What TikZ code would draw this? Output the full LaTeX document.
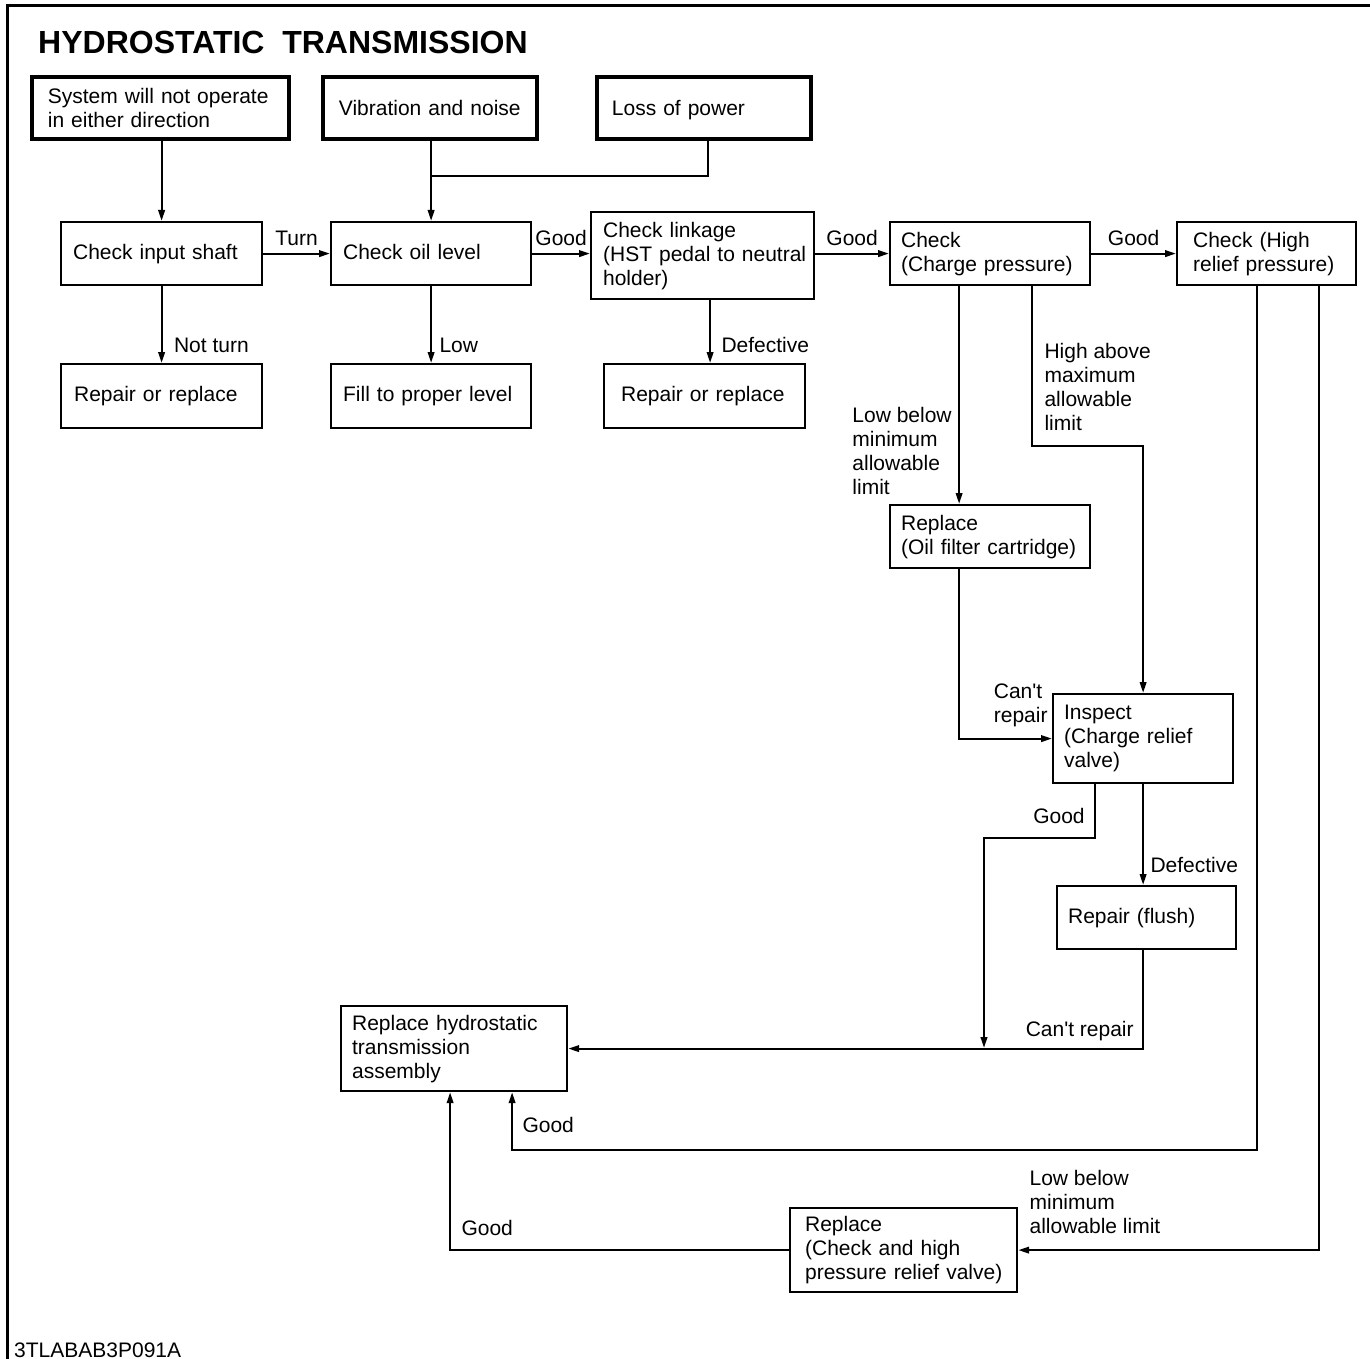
\documentclass[tikz,border=0pt]{standalone}
\usepackage{fontspec}
\setmainfont{Liberation Sans}
\usepackage{tikz}
\usetikzlibrary{calc, arrows.meta}

\begin{document}
\begin{tikzpicture}[x=1pt, y=-1pt,
    every node/.style={font=\fontsize{21}{24}\selectfont},
    box/.style={draw, line width=2.2pt, anchor=north west, align=left, inner ysep=0pt,
        execute at begin node={\rightskip=0pt plus 1fil minus 300pt\hyphenpenalty=10000}},
    start/.style={box, line width=3.8pt},
    linea/.style={line width=2.2pt},
    freccia/.style={linea, -{Triangle[length=11pt, width=6.5pt]}},
    sopra/.style={above, yshift=3pt}]
    \useasboundingbox (0,0) rectangle (1370,1359);

    % cornice
    \draw[line width=2.5pt] (7.5,1359) -- (7.5,5.5) -- (1370,5.5);

    % titolo
    \node[anchor=base west, inner sep=0pt, font=\fontsize{32}{36}\selectfont\bfseries] (titolo) at (38,54) {HYDROSTATIC\ \ TRANSMISSION};
    \node[anchor=base west, inner sep=0pt] (codice) at (14,1357) {3TLABAB3P091A};

    % sintomi
    \node[start, inner xsep=16pt, text width=225pt, minimum height=62pt] (sys) at (30,75) {System will not operate\\in either direction};
    \node[start, inner xsep=16pt, text width=182pt, minimum height=62pt] (vib) at (321,75) {Vibration and noise};
    \node[start, inner xsep=15pt, text width=184pt, minimum height=62pt, text height=19.5pt] (loss) at (595,75) {Loss of power};

    % controlli
    \node[box, inner xsep=12pt, text width=177pt, minimum height=63pt] (shaft) at (60,221) {Check input shaft};
    \node[box, inner xsep=12pt, text width=176pt, minimum height=63pt, text depth=4pt] (oil) at (330,221) {Check oil level};
    \node[box, inner xsep=12pt, text width=199pt, minimum height=87pt] (link) at (590,211) {Check linkage\\(HST pedal to neutral\\holder)};
    \node[box, inner xsep=11pt, text width=178pt, minimum height=63pt] (charge) at (889,221) {Check\\(Charge pressure)};
    \node[box, inner xsep=16pt, text width=147pt, minimum height=63pt] (high) at (1176,221) {Check (High\\relief pressure)};

    % rimedi
    \node[box, inner xsep=13pt, text width=175pt, minimum height=64pt] (rep1) at (60,363) {Repair or replace};
    \node[box, inner xsep=12pt, text width=176pt, minimum height=64pt] (fill) at (330,363) {Fill to proper level};
    \node[box, inner xsep=17pt, text width=167pt, minimum height=64pt] (rep2) at (603,363) {Repair or replace};
    \node[box, inner xsep=11pt, text width=178pt, minimum height=63pt] (filter) at (889,504) {Replace\\(Oil filter cartridge)};
    \node[box, inner xsep=11pt, text width=158pt, minimum height=89pt] (insp) at (1052,693) {Inspect\\(Charge relief\\valve)};
    \node[box, inner xsep=11pt, text width=157pt, minimum height=63pt] (flush) at (1056,885) {Repair (flush)};
    \node[box, inner xsep=11pt, text width=204pt, minimum height=85pt] (hst) at (340,1005) {Replace hydrostatic\\transmission\\assembly};
    \node[box, inner xsep=15pt, text width=197pt, minimum height=84pt] (valve) at (789,1207) {Replace\\(Check and high\\pressure relief valve)};

    % punti di unione
    \coordinate (giunto) at (430,176);
    \coordinate (unione) at (984,1048);

    % frecce in alto
    \draw[freccia] (sys.south -| shaft.north) -- (shaft.north);
    \draw[freccia] (vib.south -| oil.north) -- (oil.north);
    \draw[linea] ([xshift=4pt]loss.south) |- (giunto);

    % frecce orizzontali
    \draw[freccia] (shaft) -- (oil) node[midway, sopra] {Turn};
    \draw[freccia] (oil.east) -- (oil.east -| link.west) node[midway, sopra] {Good};
    \draw[freccia] (charge.west -| link.east) -- (charge.west) node[midway, sopra] {Good};
    \draw[freccia] (charge) -- (high) node[midway, sopra] {Good};

    % frecce verso il basso
    \draw[freccia] (shaft) -- (rep1) node[pos=.77, right, xshift=8pt] {Not turn};
    \draw[freccia] (oil) -- (fill) node[pos=.77, right, xshift=4pt] {Low};
    \draw[freccia] ([xshift=7.5pt]link.south) -- ([xshift=7.5pt]link.south |- rep2.north) node[pos=.72, right, xshift=7pt] {Defective};

    % pressione di carica
    \draw[freccia] ([xshift=-31pt]charge.south) -- ([xshift=-31pt]filter.north) node[pos=.755, left, xshift=-3pt, align=left] {Low below\\minimum\\allowable\\limit};
    \draw[freccia] ([xshift=42pt]charge.south) -- ++(0,160) node[pos=.628, right, xshift=8pt, align=left] {High above\\maximum\\allowable\\limit} -| (insp.north);
    \draw[freccia] ([xshift=-31pt]filter.south) |- (insp.west) node[pos=1, above left, yshift=7pt, align=left] {Can\textquotesingle t\\repair};
    \draw[freccia] (insp) -- (insp |- flush.north) node[pos=.8, right, xshift=3pt] {Defective};
    \draw[freccia] ([xshift=-48pt]insp.south) -- ++(0,54) node[pos=.59, left, xshift=-6pt] {Good} -| (unione);
    \draw[freccia] (flush.south -| insp.south) |- (hst.east) node[pos=.5, above left, xshift=-5pt, yshift=3pt] {Can\textquotesingle t repair};

    % pressione alta
    \draw[freccia] ([xshift=-9.5pt]high.south) -- ++(0,864) -| ([xshift=58pt]hst.south) node[pos=.717, right, xshift=6pt] {Good};
    \draw[freccia] ([xshift=52.5pt]high.south) |- (valve.east) node[pos=1, above right, xshift=7pt, yshift=12pt, align=left] {Low below\\minimum\\allowable limit};
    \draw[freccia] (valve.west) -| ([xshift=-4pt]hst.south) node[pos=.569, right, xshift=7pt] {Good};
\end{tikzpicture}
\end{document}
